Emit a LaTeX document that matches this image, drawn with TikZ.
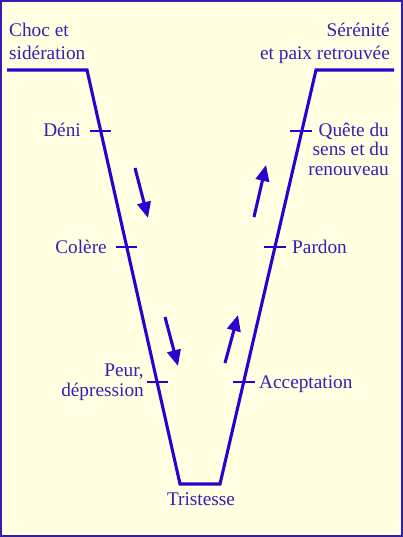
\documentclass[tikz,border=0pt]{standalone}
\usepackage{fontspec}
\setmainfont{Liberation Serif}
\usetikzlibrary{arrows.meta}
\definecolor{bgyellow}{RGB}{255,255,226}
\definecolor{vline}{RGB}{46,0,208}
\definecolor{vtext}{RGB}{52,32,178}
\definecolor{vframe}{RGB}{50,30,180}
\tikzset{
  vstroke/.style={draw=vline, line width=3.1pt, line join=miter},
  tickmark/.style={draw=vline, line width=2.4pt},
  movearrow/.style={draw=vline, fill=vline, line width=3.1pt, -{Triangle[length=16pt,width=13.5pt]}},
  lbl/.style={text=vtext, inner sep=0pt, font=\fontsize{19.3}{19.8}\selectfont}
}
\begin{document}
\begin{tikzpicture}[x=1pt,y=-1pt]
\useasboundingbox (0,0) rectangle (403,537);
\fill[bgyellow] (0,0) rectangle (403,537);
\draw[vframe, line width=2.2pt] (1.1,1.1) rectangle (401.9,535.9);
% V shape
\coordinate (tl0) at (7,70);
\coordinate (tl) at (87,70);
\coordinate (bl) at (180,484);
\coordinate (br) at (220,484);
\coordinate (tr) at (316,70);
\coordinate (tr0) at (394,70);
\draw[vstroke] (tl0) -- (tl) -- (bl) -- (br) -- (tr) -- (tr0);
% ticks left
\coordinate (d1) at (90,131);  \coordinate (d2) at (111,131);
\coordinate (c1) at (116,247); \coordinate (c2) at (137,247);
\coordinate (p1) at (147,382); \coordinate (p2) at (168,382);
% ticks right
\coordinate (q1) at (290,131); \coordinate (q2) at (312,131);
\coordinate (r1) at (264,247); \coordinate (r2) at (286,247);
\coordinate (a1) at (233,382); \coordinate (a2) at (255,382);
\draw[tickmark] (d1) -- (d2);
\draw[tickmark] (c1) -- (c2);
\draw[tickmark] (p1) -- (p2);
\draw[tickmark] (q1) -- (q2);
\draw[tickmark] (r1) -- (r2);
\draw[tickmark] (a1) -- (a2);
% arrows
\coordinate (m1s) at (135,168); \coordinate (m1e) at (148,218);
\coordinate (m2s) at (165,317); \coordinate (m2e) at (178,366);
\coordinate (m3s) at (225,363); \coordinate (m3e) at (238,315);
\coordinate (m4s) at (254,217); \coordinate (m4e) at (266,165);
\draw[movearrow] (m1s) -- (m1e);
\draw[movearrow] (m2s) -- (m2e);
\draw[movearrow] (m3s) -- (m3e);
\draw[movearrow] (m4s) -- (m4e);
% labels
\node[lbl, anchor=north west, align=left, font=\fontsize{19.3}{23}\selectfont] (choc) at (9,22.8) {Choc et\\sidération};
\node[lbl, anchor=north east, align=right, font=\fontsize{19.3}{23}\selectfont] (seren) at (390,22.8) {Sérénité\\et paix retrouvée};
\node[lbl, anchor=base east] (deni) at (81,137) {Déni};
\node[lbl, anchor=base east] (colere) at (107,253) {Colère};
\node[lbl, anchor=north east, align=right] (peur) at (144,364) {Peur,\\dépression};
\node[lbl, anchor=north east, align=right] (quete) at (389,122.5) {Quête du\\sens et du\\renouveau};
\node[lbl, anchor=base west] (pardon) at (292,253) {Pardon};
\node[lbl, anchor=base west] (accept) at (259,388) {Acceptation};
\node[lbl, anchor=base] (trist) at (201,505) {Tristesse};
\end{tikzpicture}
\end{document}
